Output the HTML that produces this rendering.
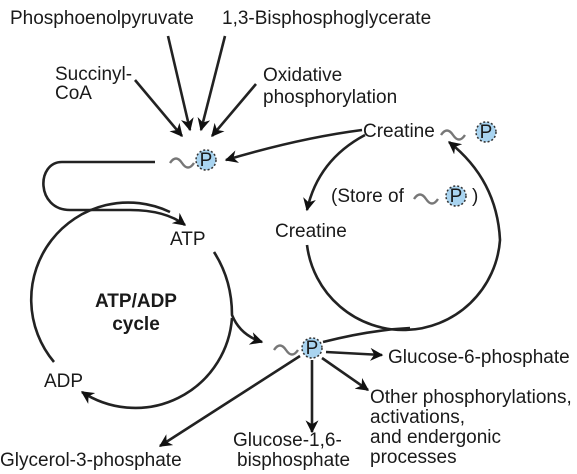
<!DOCTYPE html>
<html><head><meta charset="utf-8"><style>
html,body{margin:0;padding:0;background:#fff;}
svg{display:block;font-family:"Liberation Sans",sans-serif;}
text{font-size:19px;fill:#1a1a1a;}
</style></head><body>
<svg width="577" height="474" viewBox="0 0 577 474">
<defs>
<marker id="ah" viewBox="0 0 10 10" refX="9" refY="5" markerWidth="5" markerHeight="5" orient="auto"><path d="M0,0 L10,5 L0,10 L3,5 z" fill="#111"/></marker>
</defs>
<g stroke="#222" stroke-width="2.6" fill="none">
<path d="M135,80 L182,136" marker-end="url(#ah)"/>
<path d="M168,36 L190,130" marker-end="url(#ah)"/>
<path d="M225,36 L201,130" marker-end="url(#ah)"/>
<path d="M256,84 L212,136" marker-end="url(#ah)"/>
<path d="M362,130 Q300,138 226,160" marker-end="url(#ah)"/>
<path d="M155,162 L62,162 C36,162 36,210 70,210 L130,210 Q165,210 185,225" marker-end="url(#ah)"/>
<path d="M214,252 Q232,280 232,315 Q240,335 262,342" marker-end="url(#ah)"/>
<path d="M54,362 A97,97 0 0 1 170,212"/>
<path d="M232,318 A97,97 0 0 1 82,392" marker-end="url(#ah)"/>
<path d="M365,135 Q318,160 307,210" marker-end="url(#ah)"/>
<path d="M307,245 A97,97 0 0 0 500,240 Q497,180 449,142" marker-end="url(#ah)"/>
<path d="M323,342 Q370,330 410,328"/>
<path d="M326,352 L382,355" marker-end="url(#ah)"/>
<path d="M322,358 L368,390" marker-end="url(#ah)"/>
<path d="M312,360 L312,432" marker-end="url(#ah)"/>
<path d="M300,356 L160,446" marker-end="url(#ah)"/>
</g>
<g stroke="#777" stroke-width="2.4" fill="none">
<path d="M170,163 q6,-9 12,0 q6,9 12,0"/>
<path d="M274,350 q6,-9 12,0 q6,9 12,0"/>
<path d="M447,135 q6,-9 12,0 q6,9 12,0" transform="translate(-6,0)"/>
<path d="M418,199 q6,-9 12,0 q6,9 12,0" transform="translate(-4,0)"/>
</g>
<g stroke="#333" stroke-width="1.5" stroke-dasharray="2,2" fill="#a9d4f0">
<circle cx="206" cy="160" r="10"/><circle cx="312" cy="348" r="10"/><circle cx="486" cy="132" r="10"/><circle cx="456" cy="196" r="10"/>
</g>
<g text-anchor="middle" style="font-size:16px">
<text x="206" y="166">P</text><text x="312" y="354">P</text><text x="486" y="138">P</text><text x="456" y="202">P</text>
</g>
<text x="10" y="24">Phosphoenolpyruvate</text>
<text x="222" y="24">1,3-Bisphosphoglycerate</text>
<text x="55" y="80">Succinyl-</text>
<text x="55" y="99">CoA</text>
<text x="263" y="81">Oxidative</text>
<text x="263" y="103">phosphorylation</text>
<text x="363" y="137">Creatine</text>
<text x="331" y="202">(Store of</text>
<text x="472" y="202">)</text>
<text x="275" y="237">Creatine</text>
<text x="170" y="245">ATP</text>
<text x="136" y="307" text-anchor="middle" font-weight="bold">ATP/ADP</text>
<text x="136" y="330" text-anchor="middle" font-weight="bold">cycle</text>
<text x="44" y="387">ADP</text>
<text x="388" y="363">Glucose-6-phosphate</text>
<text x="370" y="403">Other phosphorylations,</text>
<text x="370" y="423">activations,</text>
<text x="370" y="443">and endergonic</text>
<text x="370" y="463">processes</text>
<text x="233" y="446">Glucose-1,6-</text>
<text x="237" y="466">bisphosphate</text>
<text x="0" y="466">Glycerol-3-phosphate</text>
</svg>
</body></html>
